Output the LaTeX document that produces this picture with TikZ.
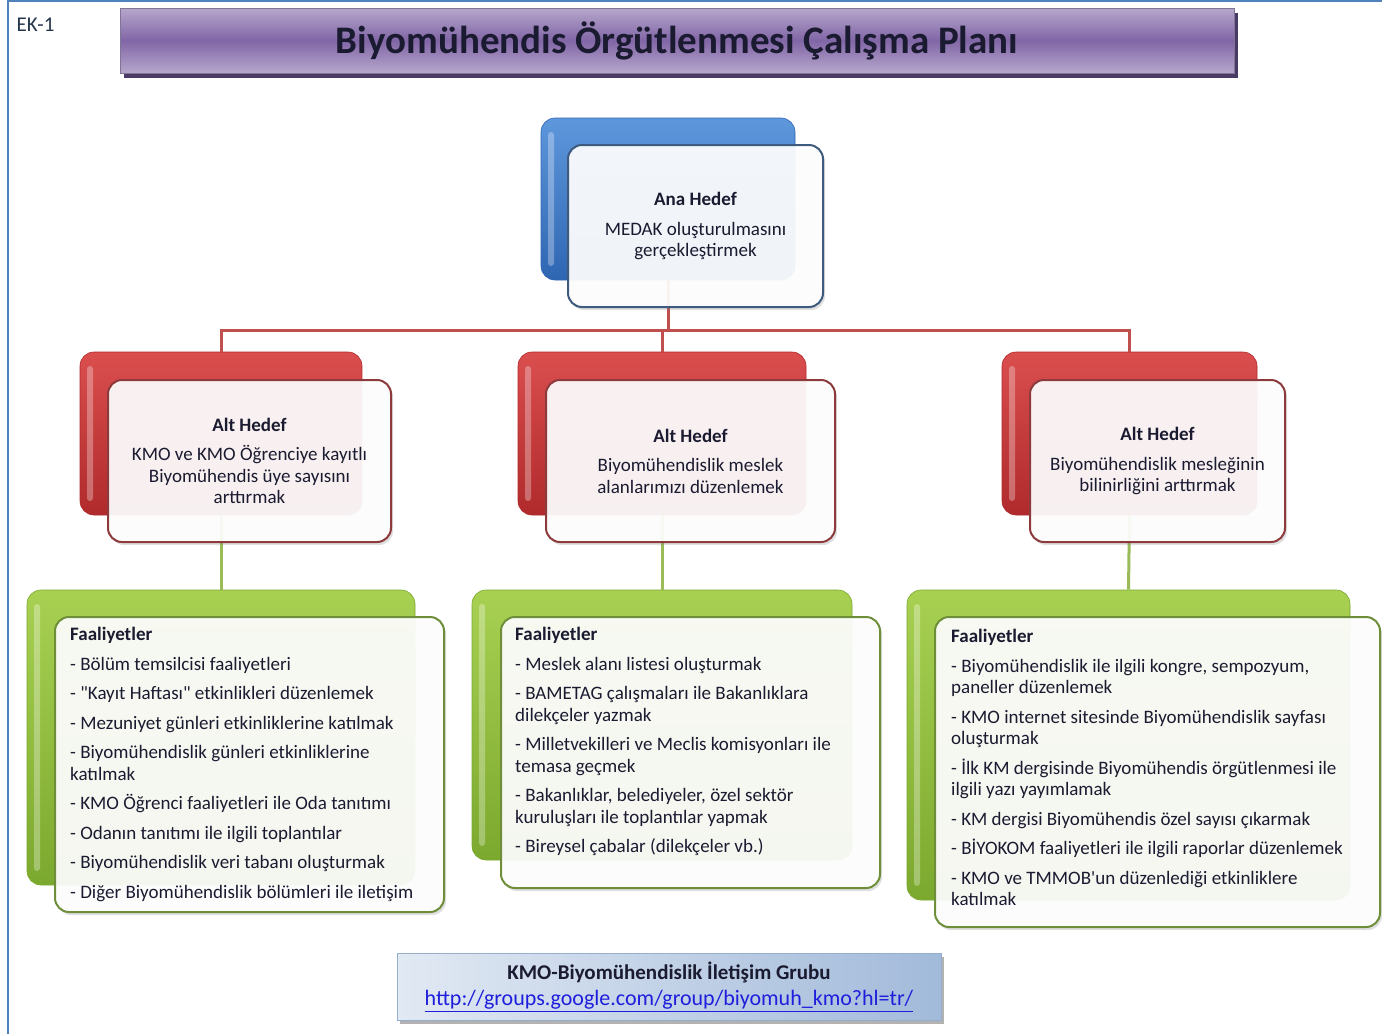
\documentclass[tikz,border=0pt]{standalone}
\usepackage{fontspec}
\setmainfont{Carlito}
\usepackage{tikz}
\usetikzlibrary{positioning, shadows}

\definecolor{framecol}{HTML}{4F81BD}
\definecolor{txtcol}{HTML}{1A1A30}
\definecolor{purplemid}{HTML}{8166A6}
\definecolor{purpleedge}{HTML}{B6A7CC}
\definecolor{purpledark}{HTML}{4A3A66}
\definecolor{bluetop}{HTML}{5E97DC}
\definecolor{bluebot}{HTML}{2F66B2}
\definecolor{blueline}{HTML}{3E5A7E}
\definecolor{redtop}{HTML}{DA4E4E}
\definecolor{redbot}{HTML}{B02A2C}
\definecolor{redline}{HTML}{8C3A3C}
\definecolor{redconn}{HTML}{C0504D}
\definecolor{greentop}{HTML}{A8D152}
\definecolor{greenbot}{HTML}{7BA82E}
\definecolor{greenline}{HTML}{6E8E3A}
\definecolor{greenconn}{HTML}{9BBB59}
\definecolor{infoleft}{HTML}{E1E9F3}
\definecolor{inforight}{HTML}{A2BADA}
\definecolor{infoline}{HTML}{96ADCC}
\definecolor{urlcol}{HTML}{1E1EDC}

\begin{document}
\begin{tikzpicture}[x=1pt, y=-1pt,
        every node/.style={text=txtcol, font=\fontsize{19}{21.5}\selectfont},
        titlebar/.style={rectangle, draw=purpledark!70, top color=purpleedge, bottom color=purpleedge, middle color=purplemid, minimum width=1114pt, minimum height=65pt, font=\fontsize{39}{44}\selectfont\bfseries, drop shadow={shadow xshift=4pt, shadow yshift=-5pt, fill=purpledark, opacity=1}},
        backbox/.style={rectangle, rounded corners=14pt, line width=0.6pt, path picture={\fill[white, opacity=.3, rounded corners=3pt] ([xshift=7pt, yshift=-14pt]path picture bounding box.north west) rectangle ([xshift=13pt, yshift=14pt]path picture bounding box.south west);}},
        frontbox/.style={rectangle, rounded corners=14pt, line width=2pt, fill=white, fill opacity=.92, text opacity=1, align=center, drop shadow={shadow xshift=2pt, shadow yshift=-3pt, opacity=.25}},
        anaback/.style={backbox, draw=bluebot, top color=bluetop, bottom color=bluebot, minimum width=254pt, minimum height=162pt},
        anafront/.style={frontbox, draw=blueline, minimum width=255pt, minimum height=162pt},
        altback/.style={backbox, draw=redbot, top color=redtop, bottom color=redbot, minimum height=163pt},
        altfront/.style={frontbox, draw=redline, minimum height=162pt},
        faalback/.style={backbox, draw=greenbot, top color=greentop, bottom color=greenbot},
        faalfront/.style={frontbox, draw=greenline},
        faaltext/.style={anchor=north west, align=left, inner sep=0pt},
        redlink/.style={draw=redconn, line width=3pt},
        greenlink/.style={draw=greenconn, line width=3pt},
        infobox/.style={rectangle, draw=infoline, left color=infoleft, right color=inforight, minimum width=544pt, minimum height=67pt, align=center, font=\fontsize{21}{26}\selectfont, drop shadow={shadow xshift=3pt, shadow yshift=-3pt, fill=gray, opacity=.6}}
    ]
    \useasboundingbox (0,0) rectangle (1382,1034);
    \fill[white] (0,0) rectangle (1382,1034);

    % cerceve
    \draw[framecol, line width=2pt] (8,1034) -- (8,1) -- (1382,1);
    \node[anchor=west, text=blueline!60!black, font=\fontsize{21}{24}\selectfont] (ek) at (13,25) {EK-1};

    % baslik
    \node[titlebar] (baslik) at (677,40.5) {Biyomühendis Örgütlenmesi Çalışma Planı};

    % kutular (arka)
    \node[anaback] (anab) at (668,199) {};
    \node[altback, minimum width=282pt] (alt1b) at (221,433.5) {};
    \node[altback, minimum width=288pt] (alt2b) at (662,433.5) {};
    \node[altback, minimum width=255pt] (alt3b) at (1129.5,433.5) {};
    \node[faalback, minimum width=388pt, minimum height=295pt] (faal1b) at (221,737.5) {};
    \node[faalback, minimum width=380pt, minimum height=270pt] (faal2b) at (662,725) {};
    \node[faalback, minimum width=443pt, minimum height=310pt] (faal3b) at (1128.5,745) {};

    % baglantilar
    \coordinate (bus) at (668,330);
    \draw[redlink] (anab.south) -- (bus) -| (alt1b.north);
    \draw[redlink] (bus) -| (alt2b.north);
    \draw[redlink] (bus) -| (alt3b.north);
    \draw[greenlink] (alt1b.south) -- (faal1b.north);
    \draw[greenlink] (alt2b.south) -- (faal2b.north);
    \draw[greenlink] (alt3b.south) -- (faal3b.north);

    % ana hedef
    \node[anafront] (anaf) at ([shift={(27.5,27)}]anab.center) {\textbf{Ana Hedef}\\[8pt]MEDAK oluşturulmasını\\gerçekleştirmek};

    % alt hedefler
    \node[altfront, minimum width=283pt] (alt1f) at ([shift={(28.5,27.5)}]alt1b.center) {\textbf{Alt Hedef}\\[8pt]KMO ve KMO Öğrenciye kayıtlı\\Biyomühendis üye sayısını\\arttırmak};
    \node[altfront, minimum width=289pt] (alt2f) at ([shift={(28.5,27.5)}]alt2b.center) {\textbf{Alt Hedef}\\[8pt]Biyomühendislik meslek\\alanlarımızı düzenlemek};
    \node[altfront, minimum width=255pt] (alt3f) at ([shift={(28,27.5)}]alt3b.center) {\textbf{Alt Hedef}\\[8pt]Biyomühendislik mesleğinin\\bilinirliğini arttırmak};

    % faaliyetler
    \node[faalfront, minimum width=389pt, minimum height=295pt] (faal1f) at ([shift={(28.5,27)}]faal1b.center) {};
    \node[faalfront, minimum width=379pt, minimum height=271pt] (faal2f) at ([shift={(28.5,27.5)}]faal2b.center) {};
    \node[faalfront, minimum width=445pt, minimum height=310pt] (faal3f) at ([shift={(29,27)}]faal3b.center) {};

    \node[faaltext] (faal1t) at ([shift={(16,11)}]faal1f.north west) {\textbf{Faaliyetler}\\[8pt]
        - Bölüm temsilcisi faaliyetleri\\[8pt]
        - \textquotedbl Kayıt Haftası\textquotedbl{} etkinlikleri düzenlemek\\[8pt]
        - Mezuniyet günleri etkinliklerine katılmak\\[8pt]
        - Biyomühendislik günleri etkinliklerine\\katılmak\\[8pt]
        - KMO Öğrenci faaliyetleri ile Oda tanıtımı\\[8pt]
        - Odanın tanıtımı ile ilgili toplantılar\\[8pt]
        - Biyomühendislik veri tabanı oluşturmak\\[8pt]
        - Diğer Biyomühendislik bölümleri ile iletişim};
    \node[faaltext] (faal2t) at ([shift={(15,11)}]faal2f.north west) {\textbf{Faaliyetler}\\[8pt]
        - Meslek alanı listesi oluşturmak\\[8pt]
        - BAMETAG çalışmaları ile Bakanlıklara\\dilekçeler yazmak\\[8pt]
        - Milletvekilleri ve Meclis komisyonları ile\\temasa geçmek\\[8pt]
        - Bakanlıklar, belediyeler, özel sektör\\kuruluşları ile toplantılar yapmak\\[8pt]
        - Bireysel çabalar (dilekçeler vb.)};
    \node[faaltext] (faal3t) at ([shift={(17,13)}]faal3f.north west) {\textbf{Faaliyetler}\\[8pt]
        - Biyomühendislik ile ilgili kongre, sempozyum,\\paneller düzenlemek\\[8pt]
        - KMO internet sitesinde Biyomühendislik sayfası\\oluşturmak\\[8pt]
        - İlk KM dergisinde Biyomühendis örgütlenmesi ile\\ilgili yazı yayımlamak\\[8pt]
        - KM dergisi Biyomühendis özel sayısı çıkarmak\\[8pt]
        - BİYOKOM faaliyetleri ile ilgili raporlar düzenlemek\\[8pt]
        - KMO ve TMMOB\textquotesingle un düzenlediği etkinliklere\\katılmak};

    % iletisim
    \node[infobox] (grup) at (669,987) {\textbf{KMO-Biyomühendislik İletişim Grubu}\\
        \textcolor{urlcol}{\fontsize{22}{26}\selectfont\underline{http://groups.google.com/group/biyomuh\_kmo?hl=tr/}}};

\end{tikzpicture}
\end{document}
